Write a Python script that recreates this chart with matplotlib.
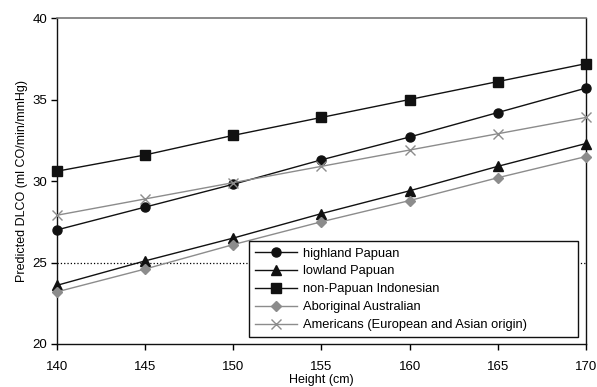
import numpy as np
import matplotlib
matplotlib.use('Agg')
from matplotlib import pyplot as plt

plt.rcParams['font.family'] = ['Liberation Sans', 'DejaVu Sans']

height = [140, 145, 150, 155, 160, 165, 170]
highland = [27.0, 28.4, 29.8, 31.3, 32.7, 34.2, 35.7]
lowland = [23.6, 25.1, 26.5, 28.0, 29.4, 30.9, 32.3]
non_papuan = [30.6, 31.6, 32.8, 33.9, 35.0, 36.1, 37.2]
aboriginal = [23.2, 24.6, 26.1, 27.5, 28.8, 30.2, 31.5]
americans = [27.9, 28.9, 29.9, 30.9, 31.9, 32.9, 33.9]

fig = plt.figure(figsize=(5.97, 3.87), dpi=100)
ax = fig.add_axes([57/597, 43/387, 529/597, 326/387])

ax.plot([140, 170], [25, 25], ':', color='black', lw=0.9, zorder=1)

ax.plot(height, highland, '-o', color='#111111', ms=6.5, lw=1, label='highland Papuan', clip_on=False, zorder=3)
ax.plot(height, lowland, '-^', color='#111111', ms=6.5, lw=1, label='lowland Papuan', clip_on=False, zorder=3)
ax.plot(height, non_papuan, '-s', color='#111111', ms=6.5, lw=1, label='non-Papuan Indonesian', clip_on=False, zorder=3)
ax.plot(height, aboriginal, '-D', color='#8c8c8c', mfc='#8c8c8c', mec='#8c8c8c', ms=4.8, lw=1, label='Aboriginal Australian', clip_on=False, zorder=3)
ax.plot(height, americans, '-x', color='#8c8c8c', ms=6.5, mew=1, lw=1, label='Americans (European and Asian origin)', clip_on=False, zorder=3)

ax.set_xlim(140, 170)
ax.set_ylim(20, 40)
ax.set_xticks(height)
ax.set_yticks([20, 25, 30, 35, 40])
ax.tick_params(direction='out', length=4, labelsize=9.5, width=1)
ax.tick_params(axis='x', pad=8)
ax.tick_params(axis='y', pad=3)
for s in ['left', 'right', 'bottom']:
  ax.spines[s].set_color('#111111')
  ax.spines[s].set_linewidth(1)
ax.spines['top'].set_color('#777777')
ax.spines['top'].set_linewidth(1.2)

ax.set_xlabel('Height (cm)', fontsize=9, labelpad=1)
ax.set_ylabel('Predicted DLCO (ml CO/min/mmHg)', fontsize=9, labelpad=3)

leg = ax.legend(loc='lower left', bbox_to_anchor=(0.363, 0.02, 0.622, 0.296), mode='expand',
                fancybox=False, edgecolor='#111111', framealpha=1, fontsize=9.3,
                handlelength=3.2, borderpad=0.5, labelspacing=0.45, borderaxespad=0, handletextpad=0.5)
leg.get_frame().set_linewidth(1)

plt.savefig('out.png', dpi=100)
